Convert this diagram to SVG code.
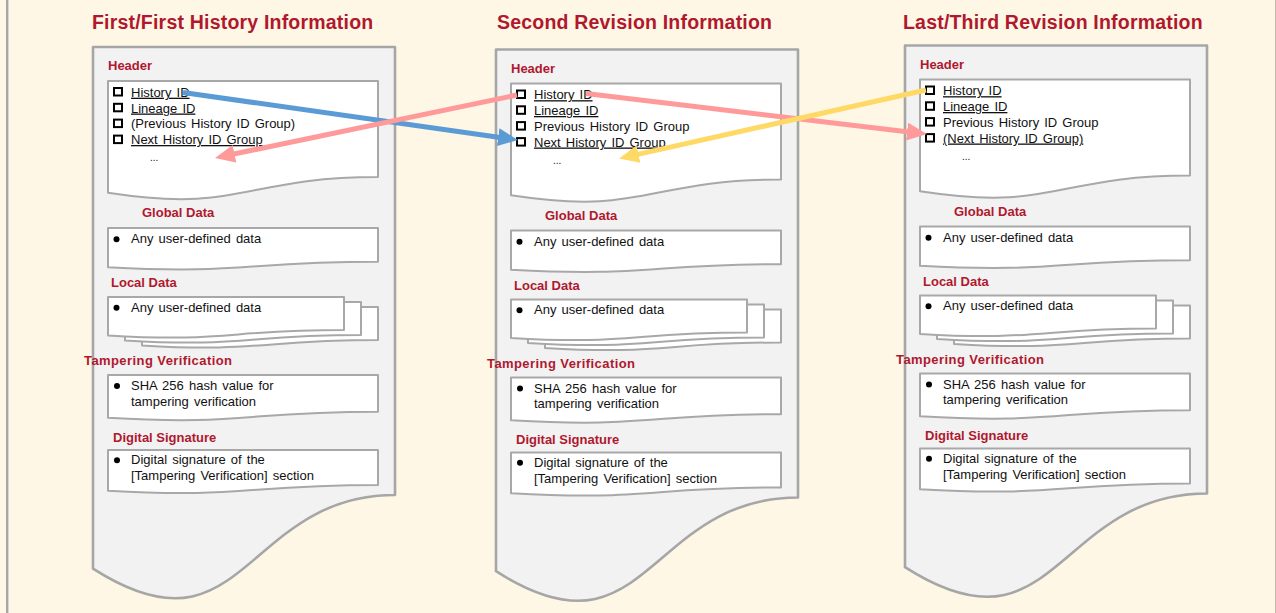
<svg xmlns="http://www.w3.org/2000/svg" xmlns:xlink="http://www.w3.org/1999/xlink" width="1276" height="613" viewBox="0 0 1276 613">
  <style>
    .bg { fill: #FFF7E5; }
    .doc { fill: #F2F2F2; stroke: #A6A6A6; stroke-width: 2.6; stroke-linejoin: round; }
    .box { fill: #FFFFFF; stroke: #A8A8A8; stroke-width: 2; stroke-linejoin: round; }
    .title { font-family: "Liberation Sans", Arial, sans-serif; font-weight: bold; font-size: 19.5px; letter-spacing: 0.2px; fill: #B0182E; }
    .sec { font-family: "Liberation Sans", Arial, sans-serif; font-weight: bold; font-size: 13px; fill: #B0182E; }
    .item { font-family: "Liberation Sans", Arial, sans-serif; font-size: 13px; word-spacing: 1.5px; fill: #111111; }
    .dots { font-family: "Liberation Sans", Arial, sans-serif; font-size: 10px; fill: #111111; }
    .u { text-decoration: underline; }
    .chk { fill: #FFFFFF; stroke: #000000; stroke-width: 2; }
    .dot { fill: #000000; }
    .link { fill: none; stroke-width: 5; stroke-linecap: butt; }
  </style>
  <defs>
    <!-- document outline shapes (wavy-bottom flowchart document) -->
    <path id="outerShape" d="M93,47 H395 V495 C244,495 244,665.4 93,568.7 Z"/>
    <path id="headerShape" d="M108,81 H378 V177 C243,177 243,213.5 108,192.8 Z"/>
    <path id="globalShape" d="M108,228 H378 V261.7 C243,261.7 243,274.5 108,267.2 Z"/>
    <path id="local3Shape" d="M142,307 H378 V340 C260,340 260,352.5 142,345.4 Z"/>
    <path id="local2Shape" d="M125,302 H361 V335 C243,335 243,347.5 125,340.4 Z"/>
    <path id="local1Shape" d="M108,297 H344 V330 C226,330 226,342.5 108,335.4 Z"/>
    <path id="tamperShape" d="M108,375 H378 V411.7 C243,411.7 243,425.7 108,417.7 Z"/>
    <path id="sigShape" d="M108,450 H378 V485 C243,485 243,498.3 108,490.8 Z"/>
    <g id="docFrame">
      <use xlink:href="#outerShape" class="doc"/>
      <use xlink:href="#headerShape" class="box"/>
      <use xlink:href="#globalShape" class="box"/>
      <use xlink:href="#local3Shape" class="box"/>
      <use xlink:href="#local2Shape" class="box"/>
      <use xlink:href="#local1Shape" class="box"/>
      <use xlink:href="#tamperShape" class="box"/>
      <use xlink:href="#sigShape" class="box"/>
      <rect class="chk" x="114" y="88" width="8" height="7.5"/>
      <rect class="chk" x="114" y="103.8" width="8" height="7.5"/>
      <rect class="chk" x="114" y="119.6" width="8" height="7.5"/>
      <rect class="chk" x="114" y="135.6" width="8" height="7.5"/>
      <circle class="dot" cx="116.5" cy="239.3" r="3"/>
      <circle class="dot" cx="116.5" cy="307.7" r="3"/>
      <circle class="dot" cx="117" cy="386" r="3"/>
      <circle class="dot" cx="117" cy="460.3" r="3"/>
    </g>
    <marker id="headBlue" viewBox="0 0 20 18" markerUnits="userSpaceOnUse" markerWidth="20" markerHeight="18" refX="2" refY="9" orient="auto">
      <path d="M0,0 L20,9 L0,18 Z" fill="#5B9BD5"/>
    </marker>
    <marker id="headPink" viewBox="0 0 20 18" markerUnits="userSpaceOnUse" markerWidth="20" markerHeight="18" refX="2" refY="9" orient="auto">
      <path d="M0,0 L20,9 L0,18 Z" fill="#FF9A9A"/>
    </marker>
    <marker id="headYellow" viewBox="0 0 20 18" markerUnits="userSpaceOnUse" markerWidth="20" markerHeight="18" refX="2" refY="9" orient="auto">
      <path d="M0,0 L20,9 L0,18 Z" fill="#FFD966"/>
    </marker>
  </defs>

  <!-- backdrop -->
  <rect class="bg" x="0" y="0" width="1276" height="613"/>
  <line x1="7.2" y1="0" x2="7.2" y2="613" stroke="#A6A6A6" stroke-width="2.4"/>
  <line x1="1275.5" y1="0" x2="1275.5" y2="613" stroke="#C9B8A6" stroke-width="1"/>

  <!-- column titles -->
  <text class="title" x="92" y="29">First/First History Information</text>
  <text class="title" x="497" y="29">Second Revision Information</text>
  <text class="title" x="903" y="29">Last/Third Revision Information</text>

  <!-- first record -->
  <g id="doc-first">
    <use xlink:href="#docFrame"/>
    <text class="sec" x="108" y="70">Header</text>
    <text class="item u" x="131" y="96.7">History ID</text>
    <text class="item u" x="131" y="112.5">Lineage ID</text>
    <text class="item" x="131" y="128.3">(Previous History ID Group)</text>
    <text class="item u" x="131" y="144">Next History ID Group</text>
    <text class="dots" x="150" y="161">...</text>
    <text class="sec" x="142" y="217">Global Data</text>
    <text class="item" x="131" y="243.3">Any user-defined data</text>
    <text class="sec" x="111" y="287">Local Data</text>
    <text class="item" x="131" y="311.7">Any user-defined data</text>
    <text class="sec" x="84" y="365" textLength="148" lengthAdjust="spacing">Tampering Verification</text>
    <text class="item" x="131" y="390">SHA 256 hash value for</text>
    <text class="item" x="131" y="405.7">tampering verification</text>
    <text class="sec" x="113" y="441.5">Digital Signature</text>
    <text class="item" x="131" y="464.3">Digital signature of the</text>
    <text class="item" x="131" y="480">[Tampering Verification] section</text>
  </g>

  <!-- second record -->
  <g id="doc-second" transform="translate(403,2.5)">
    <use xlink:href="#docFrame"/>
    <text class="sec" x="108" y="70">Header</text>
    <text class="item u" x="131" y="96.7">History ID</text>
    <text class="item u" x="131" y="112.5">Lineage ID</text>
    <text class="item" x="131" y="128.3">Previous History ID Group</text>
    <text class="item u" x="131" y="144">Next History ID Group</text>
    <text class="dots" x="150" y="161">...</text>
    <text class="sec" x="142" y="217">Global Data</text>
    <text class="item" x="131" y="243.3">Any user-defined data</text>
    <text class="sec" x="111" y="287">Local Data</text>
    <text class="item" x="131" y="311.7">Any user-defined data</text>
    <text class="sec" x="84" y="365" textLength="148" lengthAdjust="spacing">Tampering Verification</text>
    <text class="item" x="131" y="390">SHA 256 hash value for</text>
    <text class="item" x="131" y="405.7">tampering verification</text>
    <text class="sec" x="113" y="441.5">Digital Signature</text>
    <text class="item" x="131" y="464.3">Digital signature of the</text>
    <text class="item" x="131" y="480">[Tampering Verification] section</text>
  </g>

  <!-- third record -->
  <g id="doc-third" transform="translate(812,-1.5)">
    <use xlink:href="#docFrame"/>
    <text class="sec" x="108" y="70">Header</text>
    <text class="item u" x="131" y="96.7">History ID</text>
    <text class="item u" x="131" y="112.5">Lineage ID</text>
    <text class="item" x="131" y="128.3">Previous History ID Group</text>
    <text class="item u" x="131" y="144">(Next History ID Group)</text>
    <text class="dots" x="150" y="161">...</text>
    <text class="sec" x="142" y="217">Global Data</text>
    <text class="item" x="131" y="243.3">Any user-defined data</text>
    <text class="sec" x="111" y="287">Local Data</text>
    <text class="item" x="131" y="311.7">Any user-defined data</text>
    <text class="sec" x="84" y="365" textLength="148" lengthAdjust="spacing">Tampering Verification</text>
    <text class="item" x="131" y="390">SHA 256 hash value for</text>
    <text class="item" x="131" y="405.7">tampering verification</text>
    <text class="sec" x="113" y="441.5">Digital Signature</text>
    <text class="item" x="131" y="464.3">Digital signature of the</text>
    <text class="item" x="131" y="480">[Tampering Verification] section</text>
  </g>

  <!-- history links between records -->
  <g id="connectors">
    <line class="link" x1="183" y1="92.5" x2="500.2" y2="137.5" stroke="#5B9BD5" marker-end="url(#headBlue)"/>
    <line class="link" x1="517" y1="95" x2="232.6" y2="154.3" stroke="#FF9A9A" marker-end="url(#headPink)"/>
    <line class="link" x1="586" y1="93.5" x2="909.1" y2="131.9" stroke="#FF9A9A" marker-end="url(#headPink)"/>
    <line class="link" x1="926" y1="90" x2="636.6" y2="154.6" stroke="#FFD966" marker-end="url(#headYellow)"/>
  </g>
</svg>
